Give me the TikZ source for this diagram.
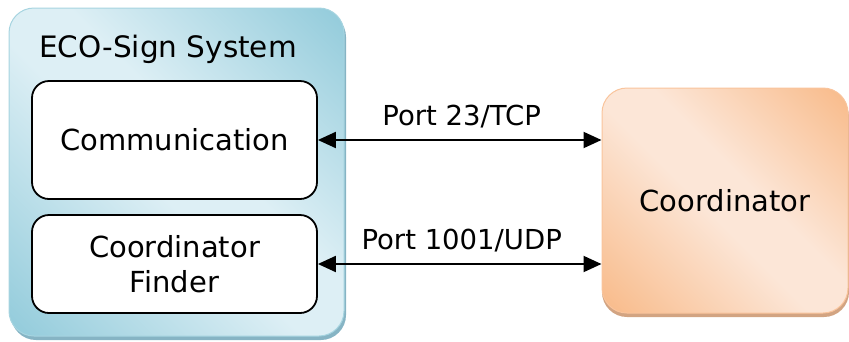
\documentclass[tikz,border=0pt]{standalone}
\usepackage{fontspec}
\setmainfont{DejaVu Sans}
\usetikzlibrary{arrows.meta}
\definecolor{bluedark}{HTML}{90CADA}
\definecolor{bluelight}{HTML}{DDEFF5}
\definecolor{blueline}{HTML}{A6D4E0}
\definecolor{blueshadow}{HTML}{86B4C4}
\definecolor{orangedark}{HTML}{F8B987}
\definecolor{orangelight}{HTML}{FCE6D7}
\definecolor{orangeline}{HTML}{F9C49C}
\definecolor{orangeshadow}{HTML}{D2A482}
\pgfdeclareverticalshading{bluesh}{100bp}{color(0bp)=(bluedark); color(14bp)=(bluedark); color(46bp)=(bluelight); color(56bp)=(bluelight); color(86bp)=(bluedark); color(100bp)=(bluedark)}
\pgfdeclareverticalshading{orangesh}{100bp}{color(0bp)=(orangedark); color(14bp)=(orangedark); color(46bp)=(orangelight); color(56bp)=(orangelight); color(86bp)=(orangedark); color(100bp)=(orangedark)}
\tikzset{
  mainfont/.style={font=\fontsize{29}{35}\selectfont},
  titlefont/.style={font=\fontsize{29.5}{35}\selectfont},
  labelfont/.style={font=\fontsize{27.5}{33}\selectfont},
  inbox/.style={draw=black, line width=1.8pt, fill=white, rounded corners=17pt, align=center, mainfont},
  conn/.style={{Triangle[length=18pt,width=16pt]}-{Triangle[length=18pt,width=16pt]}, line width=2pt},
}
\begin{document}
\begin{tikzpicture}[x=1pt,y=-1pt]
\useasboundingbox (0,0) rectangle (849,341);
% blue system box
\fill[blueshadow, rounded corners=25pt] (11,12) rectangle (346,340);
\node[draw=blueline, line width=1pt, rounded corners=25pt, minimum width=335pt, minimum height=328pt, inner sep=0pt,
  shade, shading=bluesh, shading angle=-45] (sys) at (176.5,172) {};
\node[titlefont, inner sep=0pt, anchor=base west] (title) at (39,57) {ECO-Sign System};
% inner boxes
\node[inbox, minimum width=285pt, minimum height=118pt, inner sep=0pt] (comm) at (174.5,140) {Communication};
\node[inbox, minimum width=285pt, minimum height=98pt, inner sep=0pt] (finder) at (174.5,264) {Coordinator\\Finder};
% coordinator
\fill[orangeshadow, rounded corners=25pt] (602,92) rectangle (849,317);
\node[draw=orangeline, line width=1pt, rounded corners=25pt, minimum width=246pt, minimum height=225pt, inner sep=0pt,
  shade, shading=orangesh, shading angle=-45, mainfont] (coord) at (725,200.5) {Coordinator};
% connectors
\draw[conn] (comm.east) -- node[midway, anchor=base, yshift=15pt, xshift=2pt, labelfont] (l1) {Port 23/TCP} (comm.east -| coord.west);
\draw[conn] (finder.east) -- node[midway, anchor=base, yshift=15pt, xshift=2pt, labelfont] (l2) {Port 1001/UDP} (finder.east -| coord.west);
\end{tikzpicture}
\end{document}
